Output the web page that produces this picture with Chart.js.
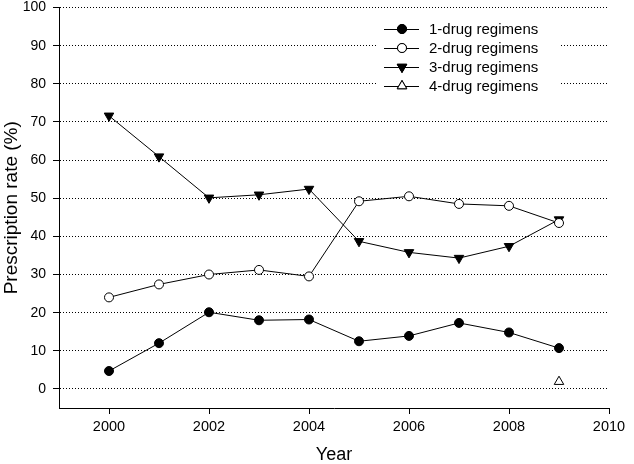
<!DOCTYPE html>
<html>
<head>
<meta charset="utf-8">
<script src="https://cdn.jsdelivr.net/npm/chart.js@4/dist/chart.umd.min.js"></script>
<style>
  html, body { margin: 0; padding: 0; background: #fff; }
  #wrap { width: 634px; height: 464px; }
</style>
</head>
<body>
<div id="wrap"><canvas id="myChart"></canvas></div>
<script>
const years = [2000, 2001, 2002, 2003, 2004, 2005, 2006, 2007, 2008, 2009];
const oneDrug = [4.7, 12.0, 20.1, 18.0, 18.2, 12.5, 13.9, 17.3, 14.8, 10.7];
const twoDrug = [24.0, 27.4, 30.0, 31.2, 29.5, 49.2, 50.5, 48.5, 48.0, 43.5];
const threeDrug = [71.6, 60.9, 50.1, 50.9, 52.4, 38.7, 35.8, 34.3, 37.4, 44.4];
const fourDrug = [null, null, null, null, null, null, null, null, null, 1.9];
const seriesNames = ['1-drug regimens', '2-drug regimens', '3-drug regimens', '4-drug regimens'];
const xTicks = [2000, 2002, 2004, 2006, 2008, 2010];
const yTicks = [0, 10, 20, 30, 40, 50, 60, 70, 80, 90, 100];

const font = 'Liberation Sans, Arial, sans-serif';

function toPoints (vals) {
    return years.map((yr, i) => ({ x: yr, y: vals[i] })).filter(p => p.y !== null);
}

function makeSet (name, vals, style, rot, fill) {
    return {
        label: name,
        data: toPoints(vals),
        borderColor: '#000',
        borderWidth: 1,
        pointStyle: style,
        pointRotation: rot,
        pointRadius: style === 'circle' ? 4.5 : 5.5,
        pointBackgroundColor: fill,
        pointBorderColor: '#000',
        pointBorderWidth: 1,
        tension: 0,
        fill: false
    };
}

// legend drawn inside the plot, top right, on a white box that hides the grid
const insideLegend = {
    id: 'insideLegend',
    beforeDatasetsDraw (chart) {
        const ctx = chart.ctx;
        ctx.save();
        ctx.fillStyle = '#fff';
        ctx.fillRect(376, 19, 184, 78);
        ctx.restore();
    },
    afterDatasetsDraw (chart) {
        const ctx = chart.ctx;
        ctx.save();
        chart.data.datasets.forEach((ds, i) => {
            const y = 29 + i * 19;
            ctx.strokeStyle = '#000';
            ctx.lineWidth = 1;
            ctx.beginPath();
            ctx.moveTo(384, y + 0.5);
            ctx.lineTo(419, y + 0.5);
            ctx.stroke();
            Chart.helpers.drawPoint(ctx, {
                pointStyle: ds.pointStyle,
                rotation: ds.pointRotation,
                radius: ds.pointRadius,
                borderWidth: 1
            }, 402, y);
            ctx.fillStyle = ds.pointBackgroundColor;
            ctx.strokeStyle = '#000';
            ctx.fill();
            ctx.stroke();
            ctx.fillStyle = '#000';
            ctx.font = '15px ' + font;
            ctx.textBaseline = 'middle';
            ctx.textAlign = 'left';
            ctx.fillText(ds.label, 429, y + 1);
        });
        ctx.restore();
    }
};

const ctx = document.getElementById('myChart');
const config = {
    type: 'line',
    data: {
        datasets: [
            makeSet(seriesNames[0], oneDrug, 'circle', 0, '#000'),
            makeSet(seriesNames[1], twoDrug, 'circle', 0, '#fff'),
            makeSet(seriesNames[2], threeDrug, 'triangle', 180, '#000'),
            makeSet(seriesNames[3], fourDrug, 'triangle', 0, '#fff')
        ]
    },
    options: {
        responsive: true,
        maintainAspectRatio: false,
        animation: false,
        layout: { padding: { top: 7.5, right: 25, left: 0, bottom: 0 } },
        plugins: {
            legend: { display: false },
            tooltip: { enabled: false }
        },
        scales: {
            x: {
                type: 'linear',
                min: 1999,
                max: 2010,
                afterBuildTicks: (scale) => { scale.ticks = xTicks.map(v => ({ value: v })); },
                afterFit: (scale) => {
                    scale.height = 56;
                    scale.paddingLeft = 0;
                    scale.paddingRight = 0;
                },
                ticks: {
                    color: '#000',
                    font: { family: font, size: 14.5 },
                    padding: 4,
                    maxRotation: 0,
                    callback: (v) => String(v)
                },
                grid: {
                    drawOnChartArea: false,
                    drawTicks: true,
                    tickLength: 6,
                    tickColor: '#000',
                    color: '#000'
                },
                border: { display: true, color: '#000', width: 1 },
                title: {
                    display: true,
                    text: 'Year',
                    color: '#000',
                    font: { family: font, size: 18 },
                    padding: { top: 5, bottom: -2 }
                }
            },
            y: {
                min: -5,
                max: 100,
                afterBuildTicks: (scale) => { scale.ticks = yTicks.map(v => ({ value: v })); },
                afterFit: (scale) => {
                    scale.width = 59;
                    scale.paddingTop = 0;
                    scale.paddingBottom = 0;
                },
                ticks: {
                    color: '#000',
                    font: { family: font, size: 14 },
                    padding: 7
                },
                grid: {
                    drawOnChartArea: true,
                    drawTicks: true,
                    tickLength: 6,
                    tickColor: '#000',
                    color: '#000',
                    lineWidth: 1
                },
                border: { display: true, color: '#000', width: 1, dash: [1, 2] },
                title: {
                    display: true,
                    text: 'Prescription rate (%)',
                    color: '#000',
                    font: { family: font, size: 19 },
                    padding: { top: 0, bottom: 4 }
                }
            }
        }
    },
    plugins: [insideLegend]
};

new Chart(ctx, config);
</script>
</body>
</html>
